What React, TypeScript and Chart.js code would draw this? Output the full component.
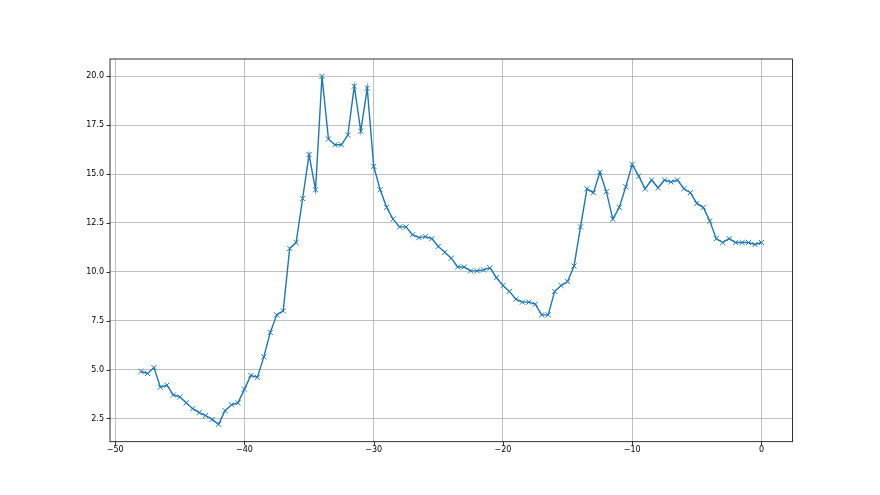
import React, { useEffect, useRef } from "react";
import { Chart, registerables } from "chart.js";

Chart.register(...registerables);

const xValues: number[] = [
  -48, -47.5, -47, -46.5, -46, -45.5, -45, -44.5, -44, -43.5, -43, -42.5, -42, -41.5, -41, -40.5,
  -40, -39.5, -39, -38.5, -38, -37.5, -37, -36.5, -36, -35.5, -35, -34.5, -34, -33.5, -33, -32.5,
  -32, -31.5, -31, -30.5, -30, -29.5, -29, -28.5, -28, -27.5, -27, -26.5, -26, -25.5, -25, -24.5,
  -24, -23.5, -23, -22.5, -22, -21.5, -21, -20.5, -20, -19.5, -19, -18.5, -18, -17.5, -17, -16.5,
  -16, -15.5, -15, -14.5, -14, -13.5, -13, -12.5, -12, -11.5, -11, -10.5, -10, -9.5, -9, -8.5,
  -8, -7.5, -7, -6.5, -6, -5.5, -5, -4.5, -4, -3.5, -3, -2.5, -2, -1.5, -1, -0.5, 0,
];

const yValues: number[] = [
  4.9, 4.8, 5.1, 4.1, 4.2, 3.7, 3.6, 3.3, 3.0, 2.8, 2.65, 2.45, 2.2, 2.9, 3.2, 3.3,
  4.0, 4.7, 4.6, 5.65, 6.9, 7.8, 8.0, 11.2, 11.5, 13.75, 16.0, 14.2, 20.0, 16.8, 16.5, 16.5,
  17.0, 19.5, 17.2, 19.4, 15.4, 14.2, 13.3, 12.7, 12.3, 12.3, 11.9, 11.75, 11.8, 11.7, 11.3, 11.0,
  10.7, 10.25, 10.25, 10.05, 10.05, 10.1, 10.2, 9.7, 9.3, 9.0, 8.6, 8.45, 8.45, 8.35, 7.8, 7.8,
  9.0, 9.3, 9.5, 10.3, 12.3, 14.25, 14.05, 15.1, 14.1, 12.7, 13.3, 14.35, 15.5, 14.9, 14.25, 14.7,
  14.3, 14.7, 14.6, 14.7, 14.25, 14.05, 13.5, 13.3, 12.6, 11.7, 11.5, 11.7, 11.5, 11.5, 11.5, 11.4, 11.5,
];

const xTicks: number[] = [-50, -40, -30, -20, -10, 0];
const yTicks: number[] = [2.5, 5, 7.5, 10, 12.5, 15, 17.5, 20];

const framePlugin = {
  id: "frame",
  afterDraw(chart: any) {
    const { ctx, chartArea } = chart;
    const { left, right, top, bottom } = chartArea;
    ctx.save();
    ctx.strokeStyle = "#000";
    ctx.lineWidth = 0.8;
    ctx.strokeRect(left, top, right - left, bottom - top);
    const xs = chart.scales.x;
    const ys = chart.scales.y;
    ctx.beginPath();
    xTicks.forEach((v) => {
      const px = Math.round(xs.getPixelForValue(v)) + 0.5;
      ctx.moveTo(px, bottom);
      ctx.lineTo(px, bottom + 3.5);
    });
    yTicks.forEach((v) => {
      const py = Math.round(ys.getPixelForValue(v)) + 0.5;
      ctx.moveTo(left, py);
      ctx.lineTo(left - 3.5, py);
    });
    ctx.stroke();
    ctx.restore();
  },
};

export default function App() {
  const ref = useRef<HTMLCanvasElement | null>(null);

  useEffect(() => {
    document.body.style.margin = "0";
    if (!ref.current) return;
    const data = xValues.map((x, i) => ({ x, y: yValues[i] }));
    const chart = new Chart(ref.current, {
      type: "line",
      data: {
        datasets: [
          {
            data,
            borderColor: "#1f77b4",
            backgroundColor: "#1f77b4",
            borderWidth: 1.4,
            pointStyle: "crossRot",
            pointRadius: 3.6,
            pointBorderWidth: 1,
            pointBorderColor: "#1f77b4",
            tension: 0,
            fill: false,
          },
        ],
      },
      options: {
        animation: false,
        responsive: false,
        maintainAspectRatio: false,
        layout: { padding: { left: 0, top: 59, right: 87.5, bottom: 33.3 } },
        plugins: { legend: { display: false }, tooltip: { enabled: false } },
        scales: {
          x: {
            type: "linear",
            min: -50.4,
            max: 2.4,
            border: { display: false },
            grid: { color: "#b0b0b0", lineWidth: 0.8, drawTicks: false },
            afterBuildTicks: (s: any) => {
              s.ticks = xTicks.map((v) => ({ value: v }));
            },
            afterFit: (s: any) => {
              s.height = 20;
            },
            ticks: {
              padding: 3,
              maxRotation: 0,
              color: "#000",
              font: { family: "DejaVu Sans", size: 8 },
              callback: (v: any) => String(v).replace("-", "\u2212"),
            },
          },
          y: {
            type: "linear",
            min: 1.31,
            max: 20.89,
            border: { display: false },
            grid: { color: "#b0b0b0", lineWidth: 0.8, drawTicks: false },
            afterBuildTicks: (s: any) => {
              s.ticks = yTicks.map((v) => ({ value: v }));
            },
            afterFit: (s: any) => {
              s.width = 110;
            },
            ticks: {
              padding: 6,
              color: "#000",
              font: { family: "DejaVu Sans", size: 8 },
              callback: (v: any) => Number(v).toFixed(1),
            },
          },
        },
      },
      plugins: [framePlugin],
    });
    return () => chart.destroy();
  }, []);

  return (
    <div style={{ width: 880, height: 495, background: "#fff" }}>
      <canvas ref={ref} width={880} height={495} style={{ width: 880, height: 495, display: "block" }} />
    </div>
  );
}
